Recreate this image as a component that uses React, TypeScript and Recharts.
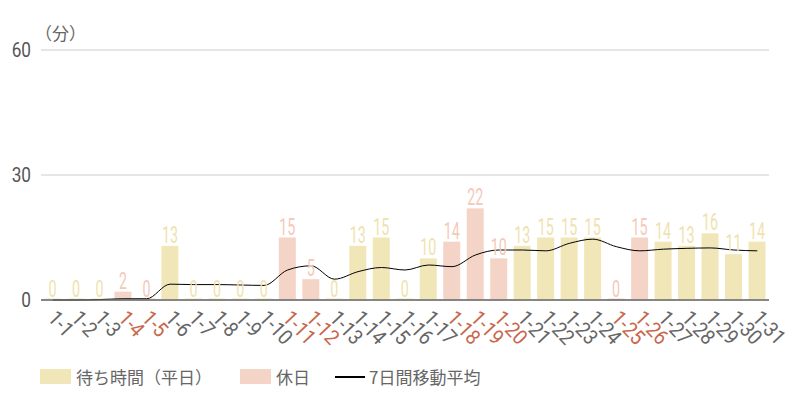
import React from 'react';
import { ComposedChart, Bar, Line, XAxis, YAxis, CartesianGrid, LabelList, Legend } from 'recharts';

const dates = ['1-1','1-2','1-3','1-4','1-5','1-6','1-7','1-8','1-9','1-10','1-11','1-12','1-13','1-14','1-15','1-16','1-17','1-18','1-19','1-20','1-21','1-22','1-23','1-24','1-25','1-26','1-27','1-28','1-29','1-30','1-31'];
const waitValues = [0,0,0,2,0,13,0,0,0,0,15,5,0,13,15,0,10,14,22,10,13,15,15,15,0,15,14,13,16,11,14];
const holidays = ['1-4','1-5','1-11','1-12','1-18','1-19','1-20','1-25','1-26'];
const movingAvg = [0,0,0.1,0.3,0.3,3.8,3.7,3.7,3.6,3.5,7.2,8.2,5.0,6.8,7.8,7.2,8.4,8.0,10.8,12.0,12.0,11.8,13.6,14.6,12.8,11.8,12.2,12.4,12.5,12.0,11.8];
const yTicks = [0, 30, 60];

const YELLOW = '#f1e6b8';
const PINK = '#f5d4c8';
const YELLOW_LABEL = '#f0e2ae';
const PINK_LABEL = '#f3cab9';
const HOLIDAY_TEXT = '#c8674c';

const data = dates.map((d, i) => {
  const hol = holidays.includes(d);
  return {
    date: d,
    weekday: hol ? null : waitValues[i],
    holiday: hol ? waitValues[i] : null,
    avg: movingAvg[i],
  };
});

const makeShape = (key: 'weekday' | 'holiday', fill: string) => (props: any) => {
  const { x, y, width, height, payload } = props;
  if (payload == null || payload[key] == null) return <g />;
  const h = Math.max(height || 0, 1.5);
  const top = (height || 0) < 1.5 ? y + (height || 0) - 1.5 : y;
  return <rect x={x} y={top} width={width} height={h} fill={fill} />;
};

const makeLabel = (key: 'weekday' | 'holiday', color: string) => (props: any) => {
  const { x, y, width, height, index } = props;
  const row = data[index];
  if (!row || row[key] == null) return null;
  const top = Math.min(y, y + height);
  const cx = x + width / 2;
  return (
    <text
      transform={`translate(${cx},${top - 3}) scale(0.62,1)`}
      textAnchor="middle"
      fontFamily="Roboto"
      fontSize={23}
      fill={color}
    >
      {row[key]}
    </text>
  );
};

const XTick = (props: any) => {
  const { x, y, payload } = props;
  const hol = holidays.includes(payload.value);
  return (
    <text
      transform={`translate(${x - 6},${y + 11}) rotate(47) scale(0.9,1)`}
      textAnchor="start"
      fontFamily="Roboto"
      fontSize={21}
      fill={hol ? HOLIDAY_TEXT : '#666'}
    >
      {payload.value}
    </text>
  );
};

const YTick = (props: any) => {
  const { x, y, payload } = props;
  return (
    <text
      transform={`translate(${x},${y + 7}) scale(0.82,1)`}
      textAnchor="end"
      fontFamily="Roboto"
      fontSize={21}
      fill="#555"
    >
      {payload.value}
    </text>
  );
};

const LegendContent = () => (
  <div style={{ position: 'relative', width: 800, height: 30, fontFamily: '"Noto Sans CJK JP", sans-serif', fontSize: 17, color: '#666' }}>
    <div style={{ position: 'absolute', left: 40, top: 7, width: 31, height: 15, background: YELLOW }} />
    <div style={{ position: 'absolute', left: 76, top: 2, lineHeight: '26px', whiteSpace: 'nowrap' }}>待ち時間（平日）</div>
    <div style={{ position: 'absolute', left: 240, top: 7, width: 31, height: 15, background: PINK }} />
    <div style={{ position: 'absolute', left: 276, top: 2, lineHeight: '26px', whiteSpace: 'nowrap' }}>休日</div>
    <div style={{ position: 'absolute', left: 335, top: 14, width: 30, height: 2, background: '#000' }} />
    <div style={{ position: 'absolute', left: 369, top: 2, lineHeight: '26px', whiteSpace: 'nowrap' }}>7日間移動平均</div>
  </div>
);

export default function App() {
  return (
    <div style={{ position: 'absolute', left: 0, top: 0, width: 800, height: 400, background: '#fff' }}>
      <ComposedChart
        width={800}
        height={400}
        data={data}
        margin={{ top: 50, right: 31, bottom: 8, left: 0 }}
        barCategoryGap={0}
      >
        <CartesianGrid vertical={false} stroke="#cccccc" />
        <XAxis
          dataKey="date"
          interval={0}
          height={62}
          tickLine={false}
          axisLine={{ stroke: '#666', strokeWidth: 1.5 }}
          tick={<XTick />}
        />
        <YAxis
          domain={[0, 60]}
          ticks={yTicks}
          width={41}
          axisLine={false}
          tickLine={false}
          tickSize={0}
          tickMargin={10}
          tick={<YTick />}
        />
        <Legend verticalAlign="bottom" align="left" height={30} content={<LegendContent />} wrapperStyle={{ left: 0, width: 800 }} />
        <Bar dataKey="weekday" stackId="a" barSize={17} fill={YELLOW} isAnimationActive={false} shape={makeShape('weekday', YELLOW)} legendType="rect">
          <LabelList dataKey="weekday" content={makeLabel('weekday', YELLOW_LABEL)} />
        </Bar>
        <Bar dataKey="holiday" stackId="a" barSize={17} fill={PINK} isAnimationActive={false} shape={makeShape('holiday', PINK)} legendType="rect">
          <LabelList dataKey="holiday" content={makeLabel('holiday', PINK_LABEL)} />
        </Bar>
        <Line dataKey="avg" type="monotone" stroke="#000" strokeWidth={1} dot={false} isAnimationActive={false} />
      </ComposedChart>
      <div style={{ position: 'absolute', left: 35, top: 20, fontFamily: '"Noto Sans CJK JP", sans-serif', fontSize: 17, color: '#666', whiteSpace: 'nowrap' }}>（分）</div>
    </div>
  );
}
